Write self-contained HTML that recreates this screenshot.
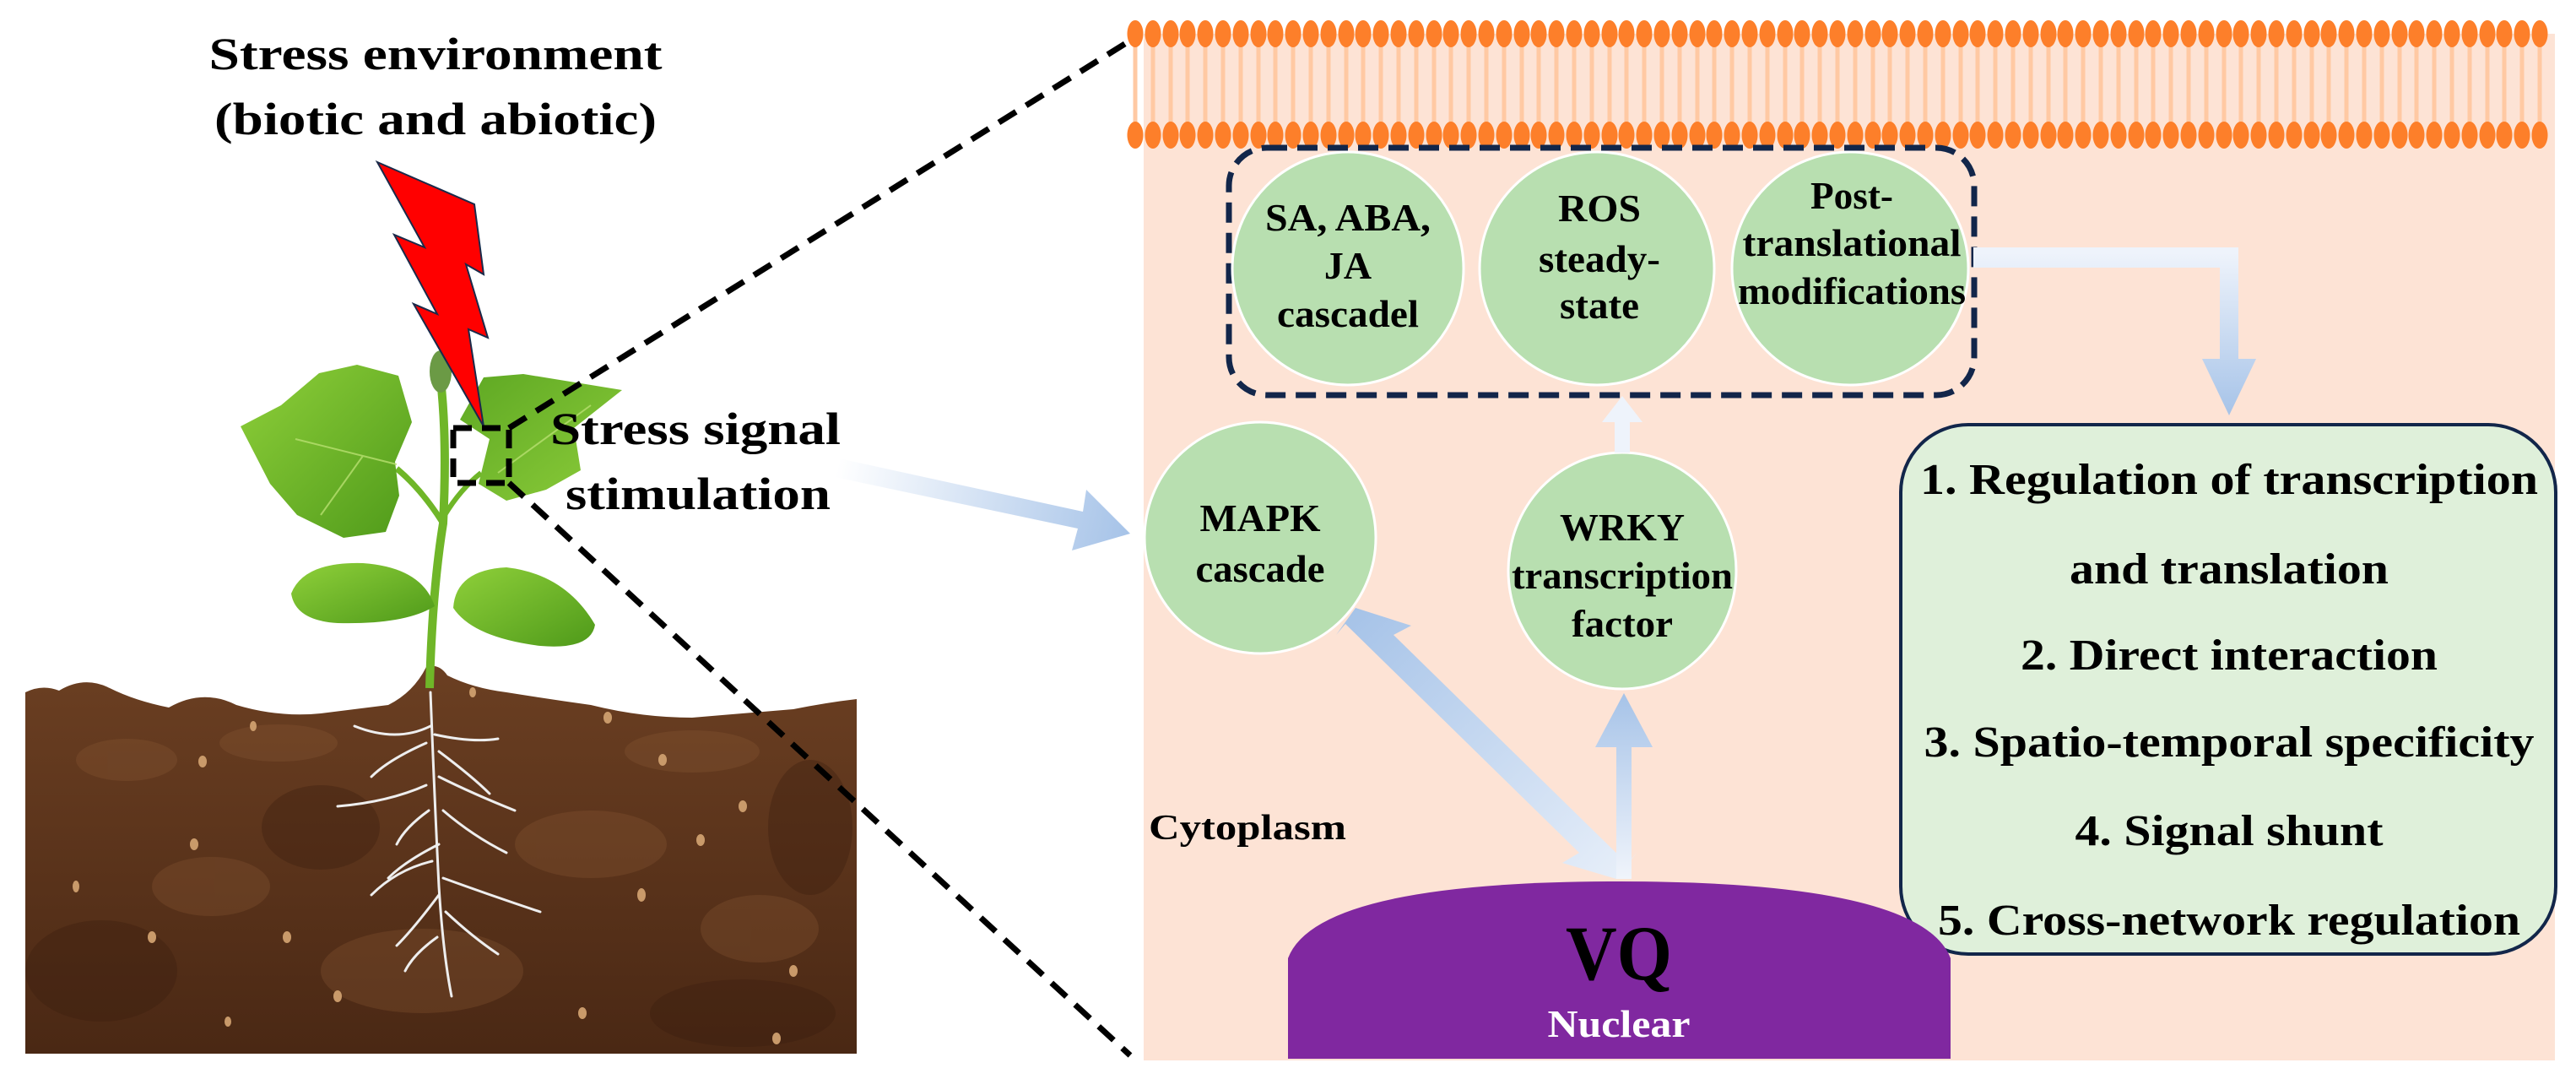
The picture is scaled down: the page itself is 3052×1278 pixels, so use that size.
<!DOCTYPE html>
<html><head><meta charset="utf-8"><style>
html,body{margin:0;padding:0;background:#fff;}
body{position:relative;width:3052px;height:1278px;overflow:hidden;}
svg{display:block;}
text{font-family:"Liberation Serif","Times New Roman",serif;font-weight:bold;}
</style></head><body>
<svg width="3052" height="1278" viewBox="0 0 3052 1278" xmlns="http://www.w3.org/2000/svg">
<defs>
<linearGradient id="leaf" x1="0" y1="0" x2="1" y2="1"><stop offset="0" stop-color="#8fd03a"/><stop offset="1" stop-color="#4f9a1a"/></linearGradient>
<linearGradient id="leaf2" x1="0" y1="0" x2="1" y2="1"><stop offset="0" stop-color="#5ea823"/><stop offset="1" stop-color="#8ccc3a"/></linearGradient>
<linearGradient id="soil" x1="0" y1="0" x2="0" y2="1"><stop offset="0" stop-color="#6b3f22"/><stop offset="1" stop-color="#4a2814"/></linearGradient>
<linearGradient id="b1" gradientUnits="userSpaceOnUse" x1="992" y1="554" x2="1339" y2="632"><stop offset="0" stop-color="#ffffff"/><stop offset="1" stop-color="#a6c3e8"/></linearGradient>
<linearGradient id="b2" gradientUnits="userSpaceOnUse" x1="1606" y1="720" x2="1915" y2="1041"><stop offset="0" stop-color="#a6c3e8"/><stop offset="1" stop-color="#e6eef9"/></linearGradient>
<linearGradient id="b3" gradientUnits="userSpaceOnUse" x1="0" y1="1041" x2="0" y2="821"><stop offset="0" stop-color="#f0f4fb"/><stop offset="1" stop-color="#a6c3e8"/></linearGradient>
<linearGradient id="b5" gradientUnits="userSpaceOnUse" x1="0" y1="300" x2="0" y2="492"><stop offset="0" stop-color="#eef3fb"/><stop offset="1" stop-color="#a6c3e8"/></linearGradient>
</defs>

<text x="516" y="82" font-size="54" text-anchor="middle" textLength="537" lengthAdjust="spacingAndGlyphs">Stress environment</text>
<text x="516" y="159" font-size="54" text-anchor="middle" textLength="524" lengthAdjust="spacingAndGlyphs">(biotic and abiotic)</text>

<path d="M30 820 Q50 810 70 818 Q100 800 130 815 Q160 830 200 838 Q240 815 280 835 Q330 850 380 845 Q420 840 460 835 Q490 820 505 790 Q520 785 530 800 Q560 815 600 820 Q650 828 700 835 Q760 850 820 850 Q880 845 940 840 Q980 832 1015 828 L1015 1248 L30 1248 Z" fill="url(#soil)"/>
<g fill="#8a5a36" opacity="0.3">
<ellipse cx="150" cy="900" rx="60" ry="25"/><ellipse cx="330" cy="880" rx="70" ry="22"/><ellipse cx="820" cy="890" rx="80" ry="25"/><ellipse cx="700" cy="1000" rx="90" ry="40"/><ellipse cx="250" cy="1050" rx="70" ry="35"/><ellipse cx="900" cy="1100" rx="70" ry="40"/><ellipse cx="500" cy="1150" rx="120" ry="50"/>
</g>
<g fill="#3a1e0e" opacity="0.35">
<ellipse cx="120" cy="1150" rx="90" ry="60"/><ellipse cx="880" cy="1200" rx="110" ry="40"/><ellipse cx="380" cy="980" rx="70" ry="50"/><ellipse cx="960" cy="980" rx="50" ry="80"/>
</g>
<g fill="#c99a6a">
<ellipse cx="240" cy="902" rx="5" ry="7"/><ellipse cx="300" cy="860" rx="4" ry="6"/><ellipse cx="560" cy="820" rx="4" ry="6"/><ellipse cx="720" cy="850" rx="5" ry="7"/><ellipse cx="785" cy="900" rx="5" ry="7"/><ellipse cx="880" cy="955" rx="5" ry="7"/><ellipse cx="830" cy="995" rx="5" ry="7"/><ellipse cx="760" cy="1060" rx="5" ry="8"/><ellipse cx="940" cy="1150" rx="5" ry="7"/><ellipse cx="180" cy="1110" rx="5" ry="7"/><ellipse cx="90" cy="1050" rx="4" ry="7"/><ellipse cx="340" cy="1110" rx="5" ry="7"/><ellipse cx="400" cy="1180" rx="5" ry="7"/><ellipse cx="690" cy="1200" rx="5" ry="7"/><ellipse cx="920" cy="1230" rx="5" ry="7"/><ellipse cx="270" cy="1210" rx="4" ry="6"/><ellipse cx="230" cy="1000" rx="5" ry="7"/>
</g>
<g stroke="#eeeeee" stroke-width="3" fill="none" stroke-linecap="round">
<path d="M510 820 Q515 950 520 1050 Q525 1130 535 1180"/>
<path d="M510 860 Q470 880 420 860"/><path d="M505 880 Q460 900 440 920"/><path d="M515 870 Q560 880 590 875"/><path d="M520 890 Q560 920 580 940"/>
<path d="M505 930 Q460 950 400 955"/><path d="M508 960 Q480 980 470 1000"/><path d="M520 920 Q560 940 610 960"/><path d="M525 960 Q560 990 600 1010"/>
<path d="M512 1020 Q470 1030 440 1060"/><path d="M520 1000 Q480 1020 460 1040"/><path d="M525 1040 Q580 1060 640 1080"/><path d="M520 1060 Q490 1100 470 1120"/><path d="M528 1080 Q560 1110 590 1130"/><path d="M518 1110 Q490 1130 480 1150"/>
</g>
<path d="M509 815 Q512 700 525 620 Q530 520 522 450" stroke="#6fb628" stroke-width="10" fill="none"/>
<path d="M525 620 Q500 580 470 555" stroke="#6fb628" stroke-width="7" fill="none"/>
<path d="M527 610 Q545 580 570 560" stroke="#6fb628" stroke-width="6" fill="none"/>
<ellipse cx="522" cy="440" rx="13" ry="25" fill="#6b9a45"/>
<path d="M285 505 L333 480 L378 442 L423 432 L472 445 L488 500 L468 547 L473 587 L457 630 L407 637 L352 610 L320 573 Z" fill="url(#leaf)"/>
<path d="M545 497 L573 447 L620 443 L737 462 L680 507 L688 557 L647 580 L600 593 L567 573 L580 520 Z" fill="url(#leaf2)"/>
<path d="M345 703 Q360 665 430 667 Q500 672 515 718 Q480 740 400 738 Q350 735 345 703 Z" fill="url(#leaf)"/>
<path d="M537 720 Q540 675 600 672 Q670 680 705 740 Q700 770 640 765 Q560 755 537 720 Z" fill="url(#leaf)"/>
<g stroke="#b8e070" stroke-width="2" fill="none" opacity="0.8"><path d="M470 550 L350 520"/><path d="M430 540 L380 610"/><path d="M590 560 L700 480"/></g>
<polygon points="447,192 562,242 573,325 552,313 578,400 555,390 573,505 490,360 518,372 467,278 503,293" fill="#ff0000" stroke="#1a2a4a" stroke-width="2"/>

<rect x="537" y="507" width="66" height="65" fill="none" stroke="#000" stroke-width="7" stroke-dasharray="22,12"/>
<line x1="603" y1="507" x2="1339" y2="48" stroke="#000" stroke-width="7" stroke-dasharray="24,14"/>
<line x1="603" y1="572" x2="1339" y2="1250" stroke="#000" stroke-width="7" stroke-dasharray="24,14"/>

<text x="652" y="526" font-size="54" textLength="344" lengthAdjust="spacingAndGlyphs">Stress signal</text>
<text x="670" y="603" font-size="54" textLength="314" lengthAdjust="spacingAndGlyphs">stimulation</text>

<rect x="1355" y="40" width="1672" height="1216" fill="#fde3d5"/>
<g stroke="#ffc9a3" stroke-width="5">
<path d="M1345 55V145M1366 55V145M1387 55V145M1407 55V145M1428 55V145M1449 55V145M1470 55V145M1491 55V145M1511 55V145M1532 55V145M1553 55V145M1574 55V145M1595 55V145M1615 55V145M1636 55V145M1657 55V145M1678 55V145M1699 55V145M1719 55V145M1740 55V145M1761 55V145M1782 55V145M1803 55V145M1823 55V145M1844 55V145M1865 55V145M1886 55V145M1907 55V145M1927 55V145M1948 55V145M1969 55V145M1990 55V145M2011 55V145M2031 55V145M2052 55V145M2073 55V145M2094 55V145M2115 55V145M2135 55V145M2156 55V145M2177 55V145M2198 55V145M2219 55V145M2239 55V145M2260 55V145M2281 55V145M2302 55V145M2323 55V145M2343 55V145M2364 55V145M2385 55V145M2406 55V145M2427 55V145M2447 55V145M2468 55V145M2489 55V145M2510 55V145M2531 55V145M2551 55V145M2572 55V145M2593 55V145M2614 55V145M2635 55V145M2655 55V145M2676 55V145M2697 55V145M2718 55V145M2739 55V145M2759 55V145M2780 55V145M2801 55V145M2822 55V145M2843 55V145M2863 55V145M2884 55V145M2905 55V145M2926 55V145M2947 55V145M2967 55V145M2988 55V145M3009 55V145"/>
</g>
<path id="beadrow" fill="#fd7f2a" d="M1345 24a9.5 16 0 1 0 0.01 0ZM1366 24a9.5 16 0 1 0 0.01 0ZM1387 24a9.5 16 0 1 0 0.01 0ZM1407 24a9.5 16 0 1 0 0.01 0ZM1428 24a9.5 16 0 1 0 0.01 0ZM1449 24a9.5 16 0 1 0 0.01 0ZM1470 24a9.5 16 0 1 0 0.01 0ZM1491 24a9.5 16 0 1 0 0.01 0ZM1511 24a9.5 16 0 1 0 0.01 0ZM1532 24a9.5 16 0 1 0 0.01 0ZM1553 24a9.5 16 0 1 0 0.01 0ZM1574 24a9.5 16 0 1 0 0.01 0ZM1595 24a9.5 16 0 1 0 0.01 0ZM1615 24a9.5 16 0 1 0 0.01 0ZM1636 24a9.5 16 0 1 0 0.01 0ZM1657 24a9.5 16 0 1 0 0.01 0ZM1678 24a9.5 16 0 1 0 0.01 0ZM1699 24a9.5 16 0 1 0 0.01 0ZM1719 24a9.5 16 0 1 0 0.01 0ZM1740 24a9.5 16 0 1 0 0.01 0ZM1761 24a9.5 16 0 1 0 0.01 0ZM1782 24a9.5 16 0 1 0 0.01 0ZM1803 24a9.5 16 0 1 0 0.01 0ZM1823 24a9.5 16 0 1 0 0.01 0ZM1844 24a9.5 16 0 1 0 0.01 0ZM1865 24a9.5 16 0 1 0 0.01 0ZM1886 24a9.5 16 0 1 0 0.01 0ZM1907 24a9.5 16 0 1 0 0.01 0ZM1927 24a9.5 16 0 1 0 0.01 0ZM1948 24a9.5 16 0 1 0 0.01 0ZM1969 24a9.5 16 0 1 0 0.01 0ZM1990 24a9.5 16 0 1 0 0.01 0ZM2011 24a9.5 16 0 1 0 0.01 0ZM2031 24a9.5 16 0 1 0 0.01 0ZM2052 24a9.5 16 0 1 0 0.01 0ZM2073 24a9.5 16 0 1 0 0.01 0ZM2094 24a9.5 16 0 1 0 0.01 0ZM2115 24a9.5 16 0 1 0 0.01 0ZM2135 24a9.5 16 0 1 0 0.01 0ZM2156 24a9.5 16 0 1 0 0.01 0ZM2177 24a9.5 16 0 1 0 0.01 0ZM2198 24a9.5 16 0 1 0 0.01 0ZM2219 24a9.5 16 0 1 0 0.01 0ZM2239 24a9.5 16 0 1 0 0.01 0ZM2260 24a9.5 16 0 1 0 0.01 0ZM2281 24a9.5 16 0 1 0 0.01 0ZM2302 24a9.5 16 0 1 0 0.01 0ZM2323 24a9.5 16 0 1 0 0.01 0ZM2343 24a9.5 16 0 1 0 0.01 0ZM2364 24a9.5 16 0 1 0 0.01 0ZM2385 24a9.5 16 0 1 0 0.01 0ZM2406 24a9.5 16 0 1 0 0.01 0ZM2427 24a9.5 16 0 1 0 0.01 0ZM2447 24a9.5 16 0 1 0 0.01 0ZM2468 24a9.5 16 0 1 0 0.01 0ZM2489 24a9.5 16 0 1 0 0.01 0ZM2510 24a9.5 16 0 1 0 0.01 0ZM2531 24a9.5 16 0 1 0 0.01 0ZM2551 24a9.5 16 0 1 0 0.01 0ZM2572 24a9.5 16 0 1 0 0.01 0ZM2593 24a9.5 16 0 1 0 0.01 0ZM2614 24a9.5 16 0 1 0 0.01 0ZM2635 24a9.5 16 0 1 0 0.01 0ZM2655 24a9.5 16 0 1 0 0.01 0ZM2676 24a9.5 16 0 1 0 0.01 0ZM2697 24a9.5 16 0 1 0 0.01 0ZM2718 24a9.5 16 0 1 0 0.01 0ZM2739 24a9.5 16 0 1 0 0.01 0ZM2759 24a9.5 16 0 1 0 0.01 0ZM2780 24a9.5 16 0 1 0 0.01 0ZM2801 24a9.5 16 0 1 0 0.01 0ZM2822 24a9.5 16 0 1 0 0.01 0ZM2843 24a9.5 16 0 1 0 0.01 0ZM2863 24a9.5 16 0 1 0 0.01 0ZM2884 24a9.5 16 0 1 0 0.01 0ZM2905 24a9.5 16 0 1 0 0.01 0ZM2926 24a9.5 16 0 1 0 0.01 0ZM2947 24a9.5 16 0 1 0 0.01 0ZM2967 24a9.5 16 0 1 0 0.01 0ZM2988 24a9.5 16 0 1 0 0.01 0ZM3009 24a9.5 16 0 1 0 0.01 0Z"/>
<use href="#beadrow" transform="translate(0,120)"/>

<polygon points="994,543 1283,606 1287,580 1339,632 1270,652 1277,626 989,565" fill="url(#b1)"/>
<rect x="1456" y="175" width="883" height="293" rx="45" fill="none" stroke="#12264a" stroke-width="7" stroke-dasharray="24,12"/>
<g fill="#b8dfb0" stroke="#ffffff" stroke-width="3">
<ellipse cx="1597" cy="318" rx="137" ry="138"/>
<ellipse cx="1892" cy="318" rx="139" ry="138"/>
<ellipse cx="2192" cy="318" rx="140" ry="138"/>
<ellipse cx="1493" cy="637" rx="137" ry="137"/>
<ellipse cx="1922" cy="676" rx="135" ry="140"/>
</g>
<polygon points="1913,536 1913,500 1898,500 1922,469 1946,500 1931,500 1931,536" fill="#eef3fb"/>
<polygon points="2338,293 2652,293 2652,425 2673,425 2641,492 2609,425 2630,425 2630,317 2338,317" fill="url(#b5)"/>
<rect x="2252" y="503" width="776" height="627" rx="80" fill="#dff0da" stroke="#12264a" stroke-width="4"/>
<polygon points="1606,720 1672,741 1651,752 1928,1023 1940,1009 1915,1041 1851,1022 1871,1010 1594,739 1583,752" fill="url(#b2)"/>
<polygon points="1915,1041 1915,885 1890,885 1924,821 1958,885 1933,885 1933,1041" fill="url(#b3)"/>
<path d="M1526 1254 L1526 1135 Q1560 1044 1918 1044 Q2276 1044 2311 1135 L2311 1254 Z" fill="#8028a0"/>
<text x="1918" y="1160" font-size="92" text-anchor="middle" textLength="126" lengthAdjust="spacingAndGlyphs" fill="#000">VQ</text>
<text x="1918" y="1228" font-size="46" text-anchor="middle" textLength="169" lengthAdjust="spacingAndGlyphs" fill="#fff">Nuclear</text>
<text x="1361" y="994" font-size="42" textLength="234" lengthAdjust="spacingAndGlyphs">Cytoplasm</text>
<g font-size="46" text-anchor="middle">
<text x="1597" y="273" textLength="196" lengthAdjust="spacingAndGlyphs">SA, ABA,</text>
<text x="1597" y="330">JA</text>
<text x="1597" y="387" textLength="168" lengthAdjust="spacingAndGlyphs">cascadel</text>
<text x="1895" y="262" textLength="98" lengthAdjust="spacingAndGlyphs">ROS</text>
<text x="1895" y="322" textLength="144" lengthAdjust="spacingAndGlyphs">steady-</text>
<text x="1895" y="377" textLength="94" lengthAdjust="spacingAndGlyphs">state</text>
<text x="2194" y="247" textLength="98" lengthAdjust="spacingAndGlyphs">Post-</text>
<text x="2194" y="303" textLength="259" lengthAdjust="spacingAndGlyphs">translational</text>
<text x="2194" y="360" textLength="270" lengthAdjust="spacingAndGlyphs">modifications</text>
<text x="1493" y="629" textLength="143" lengthAdjust="spacingAndGlyphs">MAPK</text>
<text x="1493" y="689" textLength="153" lengthAdjust="spacingAndGlyphs">cascade</text>
<text x="1922" y="640" textLength="148" lengthAdjust="spacingAndGlyphs">WRKY</text>
<text x="1922" y="697" textLength="262" lengthAdjust="spacingAndGlyphs">transcription</text>
<text x="1922" y="754" textLength="120" lengthAdjust="spacingAndGlyphs">factor</text>
</g>
<g font-size="52" text-anchor="middle">
<text x="2641" y="585" textLength="732" lengthAdjust="spacingAndGlyphs">1. Regulation of transcription</text>
<text x="2641" y="691" textLength="378" lengthAdjust="spacingAndGlyphs">and translation</text>
<text x="2641" y="793" textLength="494" lengthAdjust="spacingAndGlyphs">2. Direct interaction</text>
<text x="2641" y="896" textLength="723" lengthAdjust="spacingAndGlyphs">3. Spatio-temporal specificity</text>
<text x="2641" y="1001" textLength="365" lengthAdjust="spacingAndGlyphs">4. Signal shunt</text>
<text x="2641" y="1107" textLength="690" lengthAdjust="spacingAndGlyphs">5. Cross-network regulation</text>
</g>
</svg>
</body></html>
